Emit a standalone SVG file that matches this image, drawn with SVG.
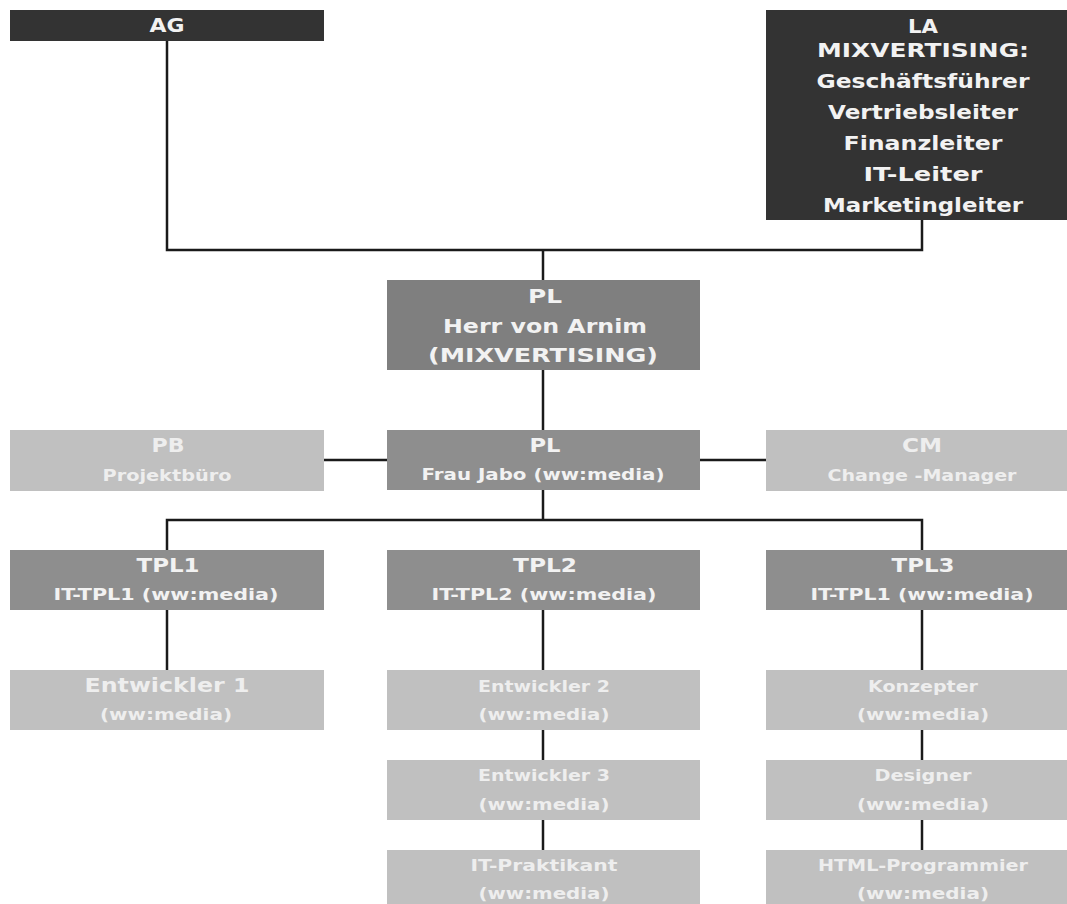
<svg xmlns="http://www.w3.org/2000/svg" width="1067" height="904" viewBox="0 0 1067 904">
<style>
.dark{fill:#333333}
.mid1{fill:#7f7f7f}
.mid{fill:#8e8e8e}
.light{fill:#c0c0c0}
text{font-family:"DejaVu Sans",Verdana,sans-serif;font-weight:bold;text-anchor:middle;fill:#f2f2f2}
.l{font-size:20px}
.s{font-size:16px}
.lt{fill:#eeeeee}
.c{fill:none;stroke:#1a1a1a;stroke-width:2.5}
</style>
<rect width="1067" height="904" fill="#ffffff"/>
<g id="connectors">
<path class="c" d="M167 41V250H922V220"/>
<path class="c" d="M543 250V280"/>
<path class="c" d="M543 370V430"/>
<path class="c" d="M324 460H387"/>
<path class="c" d="M700 460H766"/>
<path class="c" d="M543 490V520"/>
<path class="c" d="M167 550V520H922V550"/>
<path class="c" d="M167 610V670"/>
<path class="c" d="M543 610V670"/>
<path class="c" d="M543 730V760"/>
<path class="c" d="M543 820V850"/>
<path class="c" d="M922 610V670"/>
<path class="c" d="M922 730V760"/>
<path class="c" d="M922 820V850"/>
</g>
<g id="ag"><rect class="dark" x="10" y="10" width="314" height="31"/><text class="l" x="167" y="32" textLength="35" lengthAdjust="spacingAndGlyphs">AG</text></g>
<g id="la"><rect class="dark" x="766" y="10" width="301" height="210"/>
<text class="l" x="923" y="33" textLength="30" lengthAdjust="spacingAndGlyphs">LA</text>
<text class="l" x="923" y="57" textLength="212" lengthAdjust="spacingAndGlyphs">MIXVERTISING:</text>
<text class="l" x="923" y="88" textLength="213" lengthAdjust="spacingAndGlyphs">Geschäftsführer</text>
<text class="l" x="923" y="119" textLength="190" lengthAdjust="spacingAndGlyphs">Vertriebsleiter</text>
<text class="l" x="923" y="150" textLength="159" lengthAdjust="spacingAndGlyphs">Finanzleiter</text>
<text class="l" x="923" y="181" textLength="119" lengthAdjust="spacingAndGlyphs">IT-Leiter</text>
<text class="l" x="923" y="212" textLength="200" lengthAdjust="spacingAndGlyphs">Marketingleiter</text></g>
<g id="pl1"><rect class="mid1" x="387" y="280" width="313" height="90"/>
<text class="l" x="545" y="303" textLength="34" lengthAdjust="spacingAndGlyphs">PL</text>
<text class="l" x="545" y="333" textLength="204" lengthAdjust="spacingAndGlyphs">Herr von Arnim</text>
<text class="l" x="543" y="362" textLength="230" lengthAdjust="spacingAndGlyphs">(MIXVERTISING)</text></g>
<g id="pb"><rect class="light" x="10" y="430" width="314" height="61"/>
<text class="l lt" x="168" y="452" textLength="33" lengthAdjust="spacingAndGlyphs">PB</text>
<text class="s lt" x="167" y="481" textLength="129" lengthAdjust="spacingAndGlyphs">Projektbüro</text></g>
<g id="pl2"><rect class="mid" x="387" y="430" width="313" height="60"/>
<text class="l" x="545" y="452" textLength="31" lengthAdjust="spacingAndGlyphs">PL</text>
<text class="s" x="543" y="480" textLength="243" lengthAdjust="spacingAndGlyphs">Frau Jabo (ww:media)</text></g>
<g id="cm"><rect class="light" x="766" y="430" width="301" height="61"/>
<text class="l lt" x="922" y="452" textLength="40" lengthAdjust="spacingAndGlyphs">CM</text>
<text class="s lt" x="922" y="481" textLength="189" lengthAdjust="spacingAndGlyphs">Change -Manager</text></g>
<g id="tpl1"><rect class="mid" x="10" y="550" width="314" height="60"/>
<text class="l" x="168" y="572" textLength="63" lengthAdjust="spacingAndGlyphs">TPL1</text>
<text class="s" x="166" y="600" textLength="225" lengthAdjust="spacingAndGlyphs">IT-TPL1 (ww:media)</text></g>
<g id="tpl2"><rect class="mid" x="387" y="550" width="313" height="60"/>
<text class="l" x="545" y="572" textLength="64" lengthAdjust="spacingAndGlyphs">TPL2</text>
<text class="s" x="544" y="600" textLength="225" lengthAdjust="spacingAndGlyphs">IT-TPL2 (ww:media)</text></g>
<g id="tpl3"><rect class="mid" x="766" y="550" width="301" height="60"/>
<text class="l" x="923" y="572" textLength="63" lengthAdjust="spacingAndGlyphs">TPL3</text>
<text class="s" x="922" y="600" textLength="223" lengthAdjust="spacingAndGlyphs">IT-TPL1 (ww:media)</text></g>
<g id="e1"><rect class="light" x="10" y="670" width="314" height="60"/>
<text class="l lt" x="167" y="692" textLength="165" lengthAdjust="spacingAndGlyphs">Entwickler 1</text>
<text class="s lt" x="166" y="720" textLength="132" lengthAdjust="spacingAndGlyphs">(ww:media)</text></g>
<g id="e2"><rect class="light" x="387" y="670" width="313" height="60"/>
<text class="s lt" x="544" y="692" textLength="132" lengthAdjust="spacingAndGlyphs">Entwickler 2</text>
<text class="s lt" x="544" y="720" textLength="131" lengthAdjust="spacingAndGlyphs">(ww:media)</text></g>
<g id="e3"><rect class="light" x="387" y="760" width="313" height="60"/>
<text class="s lt" x="544" y="781" textLength="132" lengthAdjust="spacingAndGlyphs">Entwickler 3</text>
<text class="s lt" x="544" y="810" textLength="131" lengthAdjust="spacingAndGlyphs">(ww:media)</text></g>
<g id="itp"><rect class="light" x="387" y="850" width="313" height="60"/>
<text class="s lt" x="544" y="871" textLength="147" lengthAdjust="spacingAndGlyphs">IT-Praktikant</text>
<text class="s lt" x="544" y="899" textLength="131" lengthAdjust="spacingAndGlyphs">(ww:media)</text></g>
<g id="konz"><rect class="light" x="766" y="670" width="301" height="60"/>
<text class="s lt" x="923" y="692" textLength="110" lengthAdjust="spacingAndGlyphs">Konzepter</text>
<text class="s lt" x="923" y="720" textLength="132" lengthAdjust="spacingAndGlyphs">(ww:media)</text></g>
<g id="des"><rect class="light" x="766" y="760" width="301" height="60"/>
<text class="s lt" x="923" y="781" textLength="97" lengthAdjust="spacingAndGlyphs">Designer</text>
<text class="s lt" x="923" y="810" textLength="132" lengthAdjust="spacingAndGlyphs">(ww:media)</text></g>
<g id="html"><rect class="light" x="766" y="850" width="301" height="60"/>
<text class="s lt" x="923" y="871" textLength="210" lengthAdjust="spacingAndGlyphs">HTML-Programmier</text>
<text class="s lt" x="923" y="899" textLength="132" lengthAdjust="spacingAndGlyphs">(ww:media)</text></g>
</svg>
